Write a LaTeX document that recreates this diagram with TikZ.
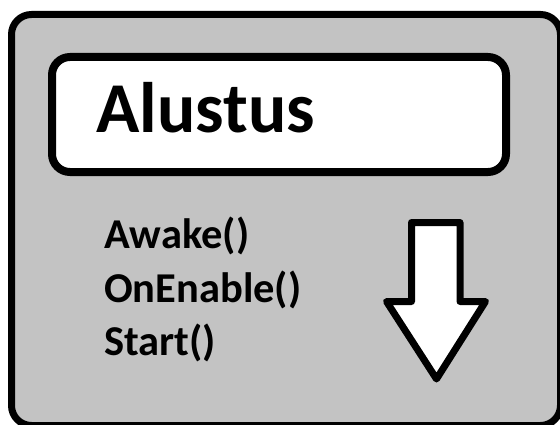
\documentclass[tikz,border=0pt]{standalone}
\usepackage{fontspec}
\setmainfont{Carlito}
\definecolor{panelgray}{RGB}{195,195,195}
\tikzset{
  frame/.style={draw=black, line width=7pt, fill=panelgray, rounded corners=20pt},
  titlebox/.style={draw=black, line width=8pt, fill=white, rounded corners=18pt},
  flowarrow/.style={draw=black, line width=7pt, fill=white, line join=round},
  titletext/.style={font=\bfseries\fontsize{71.5}{80}\selectfont, anchor=base west, inner sep=0pt},
  itemtext/.style={font=\bfseries\fontsize{42.5}{50}\selectfont, anchor=base west, inner sep=0pt}
}
\begin{document}
\begin{tikzpicture}[x=1pt,y=1pt]
  \useasboundingbox (0,0) rectangle (560,424);
  \begin{scope}
    \clip (0,0) rectangle (560,424);
    % outer panel
    \draw[frame] (11.5,-1.5) rectangle (560.5,409.5);
    % title box
    \draw[titlebox] (52,252) rectangle (506,367);
    % downward arrow
    \draw[flowarrow] (411.5,201.5) -- (460,201.5) -- (460,122.5) -- (485.5,122.5)
      -- (436.5,45) -- (386.5,122.5) -- (411.5,122.5) -- cycle;
  \end{scope}
  \node[titletext] (title) at (96,291) {Alustus};
  \node[itemtext] (awake) at (104,176) {Awake()};
  \node[itemtext] (onenable) at (104,122) {OnEnable()};
  \node[itemtext] (start) at (104,69) {Start()};
\end{tikzpicture}
\end{document}
